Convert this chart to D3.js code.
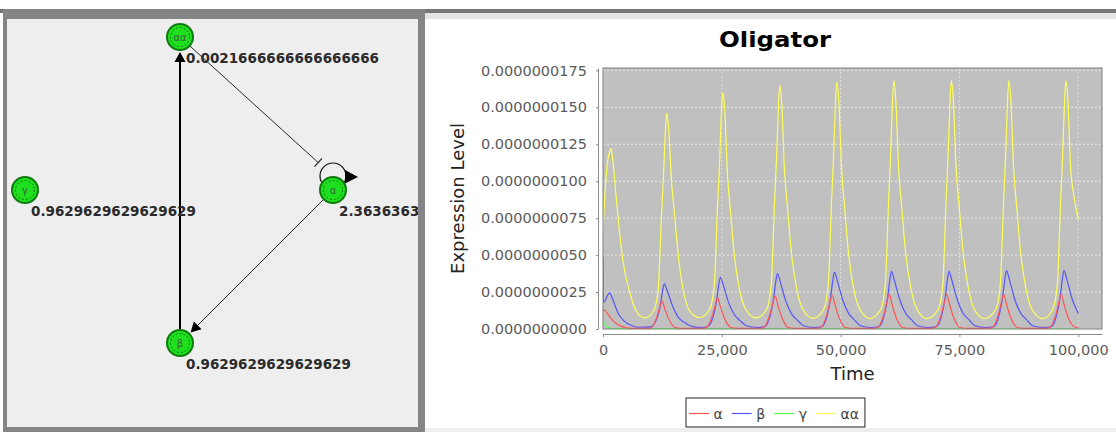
<!DOCTYPE html>
<html lang="en">
  <head>
    <meta charset="UTF-8" />
    <title>Oligator</title>
    <script src="https://cdnjs.cloudflare.com/ajax/libs/d3/7.8.5/d3.min.js"></script>
    <style>
      body {
        margin: 0;
        background: #fff;
      }

      svg {
        display: block;
        font-family: "DejaVu Sans", sans-serif;
      }

      .node-value {
        font-weight: bold;
        font-size: 13.5px;
        fill: #2b2b2b;
      }

      .node-name {
        font-size: 10px;
        fill: #3d5e3d;
        text-anchor: middle;
      }

      .axis .tick text {
        font-family: "DejaVu Sans", sans-serif;
        font-size: 14.5px;
        fill: #5a5a5a;
      }

      .axis path,
      .axis line {
        stroke: #8c8c8c;
      }

      .axis-title {
        font-size: 18px;
        fill: #222;
        text-anchor: middle;
      }

      .grid line {
        stroke: #fff;
        stroke-dasharray: 2, 2;
        stroke-width: 0.8;
        stroke-opacity: 0.85;
      }

      .grid line.v {
        stroke-opacity: 0.55;
      }

      .legend text {
        font-size: 14px;
        fill: #444;
      }
    </style>
  </head>

  <body>
    <svg id="view" width="1116" height="432"></svg>
    <script>
      // network: nodes, their values and the edges between them
      const nodeNames = ["αα", "γ", "α", "β"];
      const nodeValues = [
        "0.0021666666666666666",
        "0.9629629629629629",
        "2.3636363636363638",
        "0.9629629629629629"
      ];
      const edges = [
        { source: "β", target: "αα", kind: "activate", width: 2 },
        { source: "αα", target: "α", kind: "inhibit", width: 1 },
        { source: "α", target: "β", kind: "activate", width: 1 },
        { source: "α", target: "α", kind: "self", width: 1.2 }
      ];

      // simulation series, time vs level (level in units of 1e-9)
      const seriesNames = ["α", "β", "γ", "αα"];
      const seriesColors = ["#ff5555", "#5555ff", "#55ff55", "#ffff55"];

      const alphaPoints = [
        [0, 1.2], [300, 1.3], [900, 1.05], [1750, 0.69], [3200, 0.28], [5000, 0.08], [7000, 0.04], [9900, 0.04],
        [10200, 0.1], [11300, 0.77], [11900, 1.42], [12400, 1.9], [13000, 1.37], [13700, 0.77], [14400, 0.34], [15200, 0.1], [17000, 0.04],
        [21000, 0.04], [21700, 0.1], [22900, 0.8], [23600, 1.58], [24100, 2.1], [24700, 1.51], [25500, 0.76], [26100, 0.38], [26900, 0.1], [29000, 0.04],
        [33100, 0.04], [33800, 0.1], [35000, 0.86], [35700, 1.69], [36200, 2.25], [36800, 1.62], [37600, 0.81], [38200, 0.4], [39000, 0.1], [41000, 0.04],
        [45100, 0.04], [45800, 0.1], [47000, 0.87], [47700, 1.73], [48200, 2.3], [48800, 1.66], [49600, 0.83], [50200, 0.41], [51000, 0.1], [53000, 0.04],
        [57100, 0.04], [57800, 0.1], [59000, 0.89], [59700, 1.76], [60200, 2.35], [60800, 1.69], [61600, 0.85], [62200, 0.42], [63000, 0.1], [65000, 0.04],
        [69200, 0.04], [69900, 0.1], [71100, 0.89], [71800, 1.76], [72300, 2.35], [72900, 1.69], [73700, 0.85], [74300, 0.42], [75100, 0.1], [77100, 0.04],
        [81200, 0.04], [81900, 0.1], [83100, 0.89], [83800, 1.76], [84300, 2.35], [84900, 1.69], [85700, 0.85], [86300, 0.42], [87100, 0.1], [89100, 0.04],
        [93300, 0.04], [94000, 0.1], [95200, 0.89], [95900, 1.76], [96400, 2.35], [97000, 1.69], [97800, 0.85], [98400, 0.42], [99200, 0.15], [100000, 0.1]
      ];

      const betaPoints = [
        [0, 4.85], [60, 1.8], [500, 1.95], [1000, 2.3], [1400, 2.45], [2000, 2.05], [3200, 1.05], [4400, 0.55], [5900, 0.25], [7500, 0.12], [10000, 0.15],
        [11400, 0.77], [12100, 1.68], [12550, 2.6], [12900, 3.05], [13500, 2.6], [14500, 1.68], [15900, 0.77], [17100, 0.45], [18400, 0.2], [20500, 0.1],
        [22000, 0.15], [23200, 0.87], [23900, 1.92], [24350, 2.98], [24700, 3.5], [25300, 2.98], [26400, 1.82], [27700, 0.95], [28900, 0.55], [30200, 0.22], [32300, 0.1],
        [34000, 0.15], [35200, 0.94], [35900, 2.06], [36350, 3.19], [36700, 3.75], [37300, 3.19], [38400, 1.95], [39700, 1.01], [40900, 0.6], [42200, 0.22], [44300, 0.1],
        [46000, 0.15], [47200, 0.96], [47900, 2.12], [48350, 3.27], [48700, 3.85], [49300, 3.27], [50400, 2.0], [51700, 1.04], [52900, 0.62], [54200, 0.22], [56300, 0.1],
        [58000, 0.15], [59200, 0.98], [59900, 2.15], [60350, 3.3], [60700, 3.9], [61300, 3.3], [62400, 2.03], [63700, 1.05], [64900, 0.63], [66200, 0.22], [68300, 0.1],
        [70100, 0.15], [71300, 0.98], [72000, 2.15], [72450, 3.3], [72800, 3.9], [73400, 3.3], [74500, 2.03], [75800, 1.05], [77000, 0.63], [78300, 0.22], [80400, 0.1],
        [82200, 0.15], [83400, 0.99], [84100, 2.17], [84550, 3.36], [84900, 3.95], [85500, 3.36], [86600, 2.05], [87900, 1.07], [89100, 0.64], [90400, 0.22], [92500, 0.1],
        [94300, 0.15], [95500, 0.99], [96200, 2.17], [96650, 3.36], [97000, 3.95], [97600, 3.36], [98700, 2.05], [100000, 1.05]
      ];

      const gammaPoints = [[0, 0.6], [800, 0.15], [2000, 0.02], [100000, 0]];

      const aaPoints = [
        [0, 6.6], [500, 9.6], [1000, 11.4], [1400, 12.0], [1700, 12.2], [2100, 11.3], [2700, 9.2], [3400, 6.8], [4200, 4.6], [5700, 2.4], [7000, 1.2], [8800, 0.75],
        [10600, 1.2], [11600, 2.6], [12300, 7.6], [12700, 10.1], [13050, 12.9], [13400, 14.6], [13800, 13.6], [14400, 10.1], [15100, 7.6], [15800, 5.1], [16900, 2.6], [18300, 1.2], [20400, 0.77],
        [22400, 1.3], [23400, 2.9], [24100, 8.3], [24500, 11.0], [24850, 14.1], [25200, 16.0], [25600, 14.9], [26200, 10.4], [26900, 7.7], [27600, 5.1], [28700, 2.7], [30100, 1.3], [32200, 0.75],
        [34400, 1.3], [35400, 3.0], [36100, 8.6], [36500, 11.4], [36850, 14.5], [37200, 16.5], [37600, 15.3], [38200, 10.7], [38900, 7.9], [39600, 5.3], [40700, 2.8], [42100, 1.3], [44200, 0.72],
        [46400, 1.3], [47400, 3.0], [48100, 8.7], [48500, 11.5], [48850, 14.7], [49200, 16.7], [49600, 15.5], [50200, 10.9], [50900, 8.0], [51600, 5.3], [52700, 2.8], [54100, 1.3], [56200, 0.7],
        [58400, 1.3], [59400, 3.0], [60100, 8.7], [60500, 11.6], [60850, 14.8], [61200, 16.8], [61600, 15.6], [62200, 10.9], [62900, 8.1], [63600, 5.4], [64700, 2.9], [66100, 1.3], [68200, 0.7],
        [70500, 1.3], [71500, 3.0], [72200, 8.7], [72600, 11.6], [72950, 14.8], [73300, 16.8], [73700, 15.6], [74300, 10.9], [75000, 8.1], [75700, 5.4], [76800, 2.9], [78200, 1.3], [80300, 0.7],
        [82600, 1.3], [83600, 3.0], [84300, 8.7], [84700, 11.6], [85050, 14.8], [85400, 16.8], [85800, 15.6], [86400, 10.9], [87100, 8.1], [87800, 5.4], [88900, 2.9], [90300, 1.3], [92600, 0.7],
        [94600, 1.3], [95600, 3.0], [96300, 8.7], [96700, 11.6], [97050, 14.8], [97400, 16.8], [97800, 15.6], [98400, 10.9], [99100, 9.0], [100000, 7.4]
      ];

      const seriesPoints = [alphaPoints, betaPoints, gammaPoints, aaPoints];

      const timeTicks = [0, 25000, 50000, 75000, 100000];
      const levelTicks = [0, 2.5, 5, 7.5, 10, 12.5, 15, 17.5];

      const svg = d3.select("#view");

      // window frame
      svg.append("rect").attr("x", 0).attr("y", 9).attr("width", 1116).attr("height", 4).attr("fill", "#777");
      svg.append("rect").attr("x", 425).attr("y", 13).attr("width", 691).attr("height", 6).attr("fill", "#e4e4e4");
      svg.append("rect").attr("x", 425).attr("y", 428).attr("width", 691).attr("height", 4).attr("fill", "#eeeeee");
      svg.append("rect").attr("x", 3).attr("y", 9).attr("width", 422).attr("height", 423).attr("fill", "#858585");
      svg.append("rect").attr("x", 7).attr("y", 19).attr("width", 411).attr("height", 408).attr("fill", "#eeeeee");

      svg
        .append("clipPath")
        .attr("id", "net-clip")
        .append("rect")
        .attr("x", 7)
        .attr("y", 19)
        .attr("width", 411)
        .attr("height", 408);

      // ---------- network panel ----------
      const nodeR = 13;
      const nodePos = { "αα": [180, 37], "γ": [25, 190], "α": [333, 190], "β": [180, 343] };
      const loopOffset = -14;
      const hasLoop = new Set(edges.filter(e => e.kind === "self").map(e => e.source));

      const net = svg.append("g").attr("clip-path", "url(#net-clip)");

      function arrowHead(tip, dir, len, half) {
        const bx = tip[0] - dir[0] * len,
          by = tip[1] - dir[1] * len;
        return [
          [tip[0], tip[1]],
          [bx - dir[1] * half, by + dir[0] * half],
          [bx + dir[1] * half, by - dir[0] * half]
        ];
      }

      edges.forEach(e => {
        const s = nodePos[e.source];
        if (e.kind === "self") {
          const cx = s[0],
            cy = s[1] + loopOffset;
          net
            .append("circle")
            .attr("cx", cx)
            .attr("cy", cy)
            .attr("r", 13)
            .attr("fill", "none")
            .attr("stroke", "#111")
            .attr("stroke-width", e.width);
          net
            .append("polygon")
            .attr("points", [[cx + 12, cy - 6], [cx + 25, cy + 1], [cx + 12, cy + 7.5]].join(" "))
            .attr("fill", "#000");
          return;
        }
        let t = nodePos[e.target];
        // inhibition onto a looped node aims at the loop
        if (e.kind === "inhibit" && hasLoop.has(e.target)) t = [t[0], t[1] + loopOffset];
        const dx = t[0] - s[0],
          dy = t[1] - s[1],
          len = Math.hypot(dx, dy);
        const dir = [dx / len, dy / len];
        const start = [s[0] + dir[0] * nodeR, s[1] + dir[1] * nodeR];
        const color = e.width > 1 ? "#000" : "#2a2a2a";

        if (e.kind === "activate") {
          const tip = [t[0] - dir[0] * (nodeR + 2), t[1] - dir[1] * (nodeR + 2)];
          const base = [tip[0] - dir[0] * 9, tip[1] - dir[1] * 9];
          net
            .append("line")
            .attr("x1", start[0])
            .attr("y1", start[1])
            .attr("x2", base[0])
            .attr("y2", base[1])
            .attr("stroke", color)
            .attr("stroke-width", e.width);
          net
            .append("polygon")
            .attr("points", arrowHead(tip, dir, 10, 5.5).join(" "))
            .attr("fill", "#000");
        } else {
          const end = [t[0] - dir[0] * 20, t[1] - dir[1] * 20];
          net
            .append("line")
            .attr("x1", start[0])
            .attr("y1", start[1])
            .attr("x2", end[0])
            .attr("y2", end[1])
            .attr("stroke", color)
            .attr("stroke-width", e.width);
          net
            .append("line")
            .attr("x1", end[0] - dir[1] * 5.5)
            .attr("y1", end[1] + dir[0] * 5.5)
            .attr("x2", end[0] + dir[1] * 5.5)
            .attr("y2", end[1] - dir[0] * 5.5)
            .attr("stroke", color)
            .attr("stroke-width", 1.2);
        }
      });

      const nodes = net
        .selectAll("g.node")
        .data(nodeNames)
        .join("g")
        .attr("class", "node")
        .attr("transform", d => `translate(${nodePos[d][0]},${nodePos[d][1]})`);

      nodes
        .append("circle")
        .attr("r", nodeR)
        .attr("fill", "#1fe01f")
        .attr("stroke", "#0f7a0f")
        .attr("stroke-width", 2);

      nodes
        .append("circle")
        .attr("r", nodeR - 3.5)
        .attr("fill", "none")
        .attr("stroke", "#0b5e0b")
        .attr("stroke-width", 0.8)
        .attr("stroke-dasharray", "2,2");

      nodes
        .append("text")
        .attr("class", "node-name")
        .attr("dy", "0.35em")
        .text(d => d);

      net
        .selectAll("text.node-value")
        .data(nodeNames)
        .join("text")
        .attr("class", "node-value")
        .attr("x", d => nodePos[d][0] + 6)
        .attr("y", d => nodePos[d][1] + 26)
        .text((d, i) => nodeValues[i]);

      // ---------- time series panel ----------
      const plot = { left: 603, right: 1102, top: 68, bottom: 329 };

      const x = d3.scaleLinear().domain([0, 105000]).range([plot.left, plot.right]);
      const y = d3.scaleLinear().domain([0, 17.66]).range([plot.bottom, plot.top]);

      svg
        .append("clipPath")
        .attr("id", "plot-clip")
        .append("rect")
        .attr("x", plot.left)
        .attr("y", plot.top)
        .attr("width", plot.right - plot.left)
        .attr("height", plot.bottom - plot.top);

      svg
        .append("rect")
        .attr("x", plot.left)
        .attr("y", plot.top)
        .attr("width", plot.right - plot.left)
        .attr("height", plot.bottom - plot.top)
        .attr("fill", "#c0c0c0");

      const grid = svg.append("g").attr("class", "grid");
      grid
        .selectAll("line.h")
        .data(levelTicks)
        .join("line")
        .attr("class", "h")
        .attr("x1", plot.left)
        .attr("x2", plot.right)
        .attr("y1", d => y(d))
        .attr("y2", d => y(d));
      grid
        .selectAll("line.v")
        .data(timeTicks)
        .join("line")
        .attr("class", "v")
        .attr("x1", d => x(d))
        .attr("x2", d => x(d))
        .attr("y1", plot.top)
        .attr("y2", plot.bottom);

      const line = d3
        .line()
        .x(d => x(d[0]))
        .y(d => y(d[1]))
        .curve(d3.curveMonotoneX);

      // last series drawn first, α ends on top
      const lines = svg.append("g").attr("clip-path", "url(#plot-clip)");
      d3.range(seriesNames.length)
        .reverse()
        .forEach(i => {
          lines
            .append("path")
            .datum(seriesPoints[i])
            .attr("d", line)
            .attr("fill", "none")
            .attr("stroke", seriesColors[i])
            .attr("stroke-width", 1.2);
        });

      svg
        .append("rect")
        .attr("x", plot.left)
        .attr("y", plot.top)
        .attr("width", plot.right - plot.left)
        .attr("height", plot.bottom - plot.top)
        .attr("fill", "none")
        .attr("stroke", "#7c7c7c")
        .attr("stroke-width", 1);

      // axes
      svg
        .append("g")
        .attr("class", "axis")
        .attr("transform", `translate(${plot.left - 5},0)`)
        .call(
          d3
            .axisLeft(y)
            .tickValues(levelTicks)
            .tickSize(2)
            .tickSizeOuter(0)
            .tickPadding(9)
            .tickFormat(d => (d * 1e-9).toFixed(10))
        );

      svg
        .append("g")
        .attr("class", "axis")
        .attr("transform", `translate(0,${plot.bottom + 5})`)
        .call(
          d3
            .axisBottom(x)
            .tickValues(timeTicks)
            .tickSize(3)
            .tickSizeOuter(0)
            .tickPadding(8)
            .tickFormat(d3.format(","))
        );

      svg
        .append("text")
        .attr("class", "axis-title")
        .attr("transform", `translate(464,${(plot.top + plot.bottom) / 2}) rotate(-90)`)
        .text("Expression Level");

      svg
        .append("text")
        .attr("class", "axis-title")
        .attr("x", (plot.left + plot.right) / 2)
        .attr("y", 380)
        .text("Time");

      svg
        .append("text")
        .attr("x", 775)
        .attr("y", 47)
        .attr("text-anchor", "middle")
        .attr("font-weight", "bold")
        .attr("font-size", "22px")
        .attr("textLength", 112)
        .attr("lengthAdjust", "spacingAndGlyphs")
        .attr("fill", "#000")
        .text("Oligator");

      // legend
      const legend = svg.append("g").attr("class", "legend");
      const box = legend
        .append("rect")
        .attr("y", 398)
        .attr("height", 29)
        .attr("fill", "#fff")
        .attr("stroke", "#222")
        .attr("stroke-width", 1);

      let cursor = 689;
      seriesNames.forEach((name, i) => {
        legend
          .append("line")
          .attr("x1", cursor)
          .attr("x2", cursor + 20)
          .attr("y1", 413.5)
          .attr("y2", 413.5)
          .attr("stroke", seriesColors[i])
          .attr("stroke-width", 1.2);
        const label = legend
          .append("text")
          .attr("x", cursor + 24.5)
          .attr("y", 418.5)
          .text(name);
        cursor += 24.5 + label.node().getComputedTextLength() + 9;
      });
      box.attr("x", 686).attr("width", cursor - 9 + 6 - 686);
    </script>
  </body>
</html>
